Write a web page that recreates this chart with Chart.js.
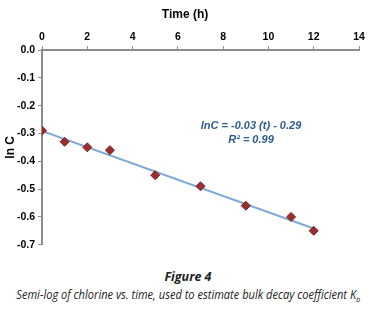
<!DOCTYPE html>
<html>
<head>
<meta charset="utf-8">
<script src="https://cdn.jsdelivr.net/npm/chart.js@4"></script>
<style>
  html, body { margin: 0; padding: 0; background: #fff; }
  #wrap { position: relative; width: 376px; height: 309px; overflow: hidden; }
  #chart { position: absolute; left: 0; top: 0; }
  #xtitle { position: absolute; top: 7px; left: 145px; width: 80px; text-align: center;
            font: bold 12px 'Liberation Sans', Arial, sans-serif; color: #000; }
  .fig { position: absolute; left: 0; width: 376px; text-align: center; color: #222;
         font-family: 'Open Sans', 'Noto Sans', sans-serif; font-style: italic; }
  #figno { top: 268px; font-size: 12.5px; font-weight: bold; }
  #caption { top: 286px; font-size: 12px; white-space: nowrap; }
  #caption span { display: inline-block; transform-origin: center; }
</style>
</head>
<body>
<div id="wrap">
  <canvas id="chart" width="376" height="254"></canvas>
  <div id="xtitle">Time (h)</div>
  <div class="fig" id="figno">Figure 4</div>
  <div class="fig" id="caption"><span id="capText">Semi-log of chlorine vs. time, used to estimate bulk decay coefficient K<sub style="font-size:8px">b</sub></span></div>
</div>
<script>
// measured values
const hours = [0, 1, 2, 3, 5, 7, 9, 11, 12];
const lnC = [-0.29, -0.33, -0.35, -0.36, -0.45, -0.49, -0.56, -0.60, -0.65];
const xTicks = [0, 2, 4, 6, 8, 10, 12, 14];
const yTicks = [0, -0.1, -0.2, -0.3, -0.4, -0.5, -0.6, -0.7];
const trendLabel = ['lnC = -0.03 (t) - 0.29', 'R² = 0.99'];

// squeeze the caption to the width it has in the figure
const cap = document.getElementById('capText');
cap.style.transform = 'scaleX(' + (344 / cap.getBoundingClientRect().width) + ')';

// least squares fit for the trend line
const n = hours.length;
const mx = hours.reduce((a, b) => a + b, 0) / n;
const my = lnC.reduce((a, b) => a + b, 0) / n;
let sxy = 0, sxx = 0;
for (let i = 0; i < n; i++) {
    sxy += (hours[i] - mx) * (lnC[i] - my);
    sxx += (hours[i] - mx) * (hours[i] - mx);
}
const slope = sxy / sxx;
const icpt = my - slope * mx;
const tFirst = hours[0], tLast = hours[n - 1];

const tickFont = { family: "'Liberation Sans', Arial", size: 10.5, weight: 'bold' };
const axisGray = '#8c8c8c';

const trendText = {
    id: 'trendText',
    afterDatasetsDraw(chart) {
        const ctx = chart.ctx;
        const a = chart.chartArea;
        ctx.save();
        ctx.fillStyle = '#2f5b8c';
        ctx.font = "italic bold 11px 'Liberation Sans', Arial";
        ctx.textAlign = 'center';
        ctx.textBaseline = 'middle';
        ctx.fillText(trendLabel[0], a.left + 209, a.top + 76);
        ctx.fillText(trendLabel[1], a.left + 209, a.top + 90);
        ctx.restore();
    }
};

new Chart(document.getElementById('chart').getContext('2d'), {
    type: 'scatter',
    data: {
        datasets: [
            {
                label: 'fit',
                type: 'line',
                data: [{ x: tFirst, y: icpt + slope * tFirst }, { x: tLast, y: icpt + slope * tLast }],
                borderColor: '#7eaad8',
                borderWidth: 2,
                pointRadius: 0,
                order: 2
            },
            {
                label: 'ln C',
                data: hours.map((t, i) => ({ x: t, y: lnC[i] })),
                pointStyle: 'rectRot',
                pointRadius: 4.5,
                backgroundColor: '#9b2f2f',
                borderColor: '#7a2020',
                borderWidth: 1,
                order: 1
            }
        ]
    },
    options: {
        responsive: false,
        animation: false,
        layout: { padding: { left: 3, right: 17, top: 0, bottom: 8 } },
        scales: {
            x: {
                type: 'linear',
                position: 'top',
                min: 0,
                max: 14,
                afterBuildTicks: s => { s.ticks = xTicks.map(v => ({ value: v })); },
                afterFit: s => { s.height = 50; },
                ticks: { color: '#000', font: tickFont, padding: 3, maxRotation: 0 },
                grid: { drawOnChartArea: false, color: axisGray, tickLength: 4 },
                border: { color: axisGray, width: 2 }
            },
            y: {
                type: 'linear',
                min: -0.7,
                max: 0,
                afterBuildTicks: s => { s.ticks = yTicks.map(v => ({ value: v })); },
                afterFit: s => { s.width = 39; },
                ticks: { color: '#000', font: tickFont, padding: 3,
                         callback: v => (v === 0 ? '0.0' : v.toFixed(1)) },
                grid: { drawOnChartArea: false, color: axisGray, tickLength: 4 },
                border: { color: axisGray, width: 2 },
                title: { display: true, text: 'ln C', color: '#000',
                         font: { family: tickFont.family, size: 12, weight: 'bold' }, padding: 0 }
            }
        },
        plugins: {
            legend: { display: false },
            tooltip: { enabled: false }
        }
    },
    plugins: [trendText]
});
</script>
</body>
</html>
